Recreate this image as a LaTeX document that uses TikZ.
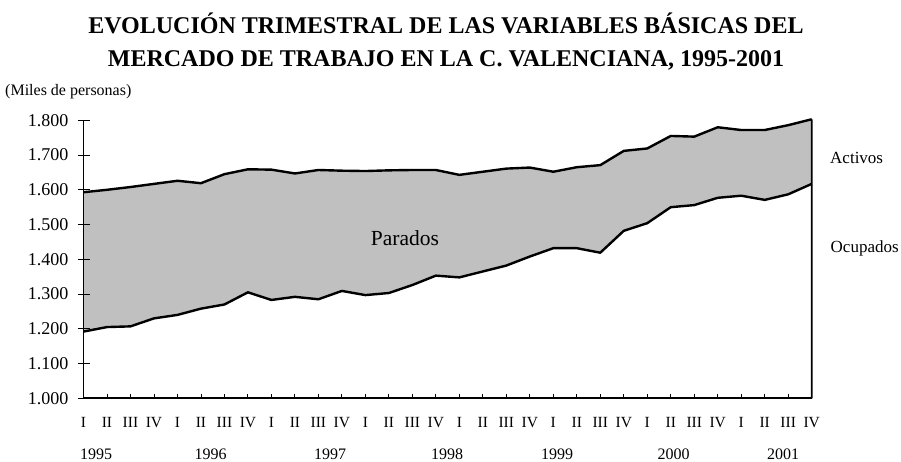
\documentclass[tikz,border=0pt]{standalone}
\usepackage{fontspec}
\setmainfont{Liberation Serif}
\definecolor{areagray}{HTML}{C0C0C0}
\begin{document}
\begin{tikzpicture}[x=1pt,y=-1pt,
  dataline/.style={line width=2.4pt,line join=round},
  axisline/.style={line width=1.8pt},
  tickline/.style={line width=0.9pt},
  ticklab/.style={anchor=east,inner sep=0pt,font=\fontsize{18}{18}\selectfont},
  qlab/.style={anchor=base,inner sep=0pt,font=\fontsize{15.5}{16}\selectfont},
  yearlab/.style={anchor=base,inner sep=0pt,font=\fontsize{16}{16}\selectfont},
  serlab/.style={anchor=base west,inner sep=0pt,font=\fontsize{17}{17}\selectfont},
  titlelab/.style={anchor=base,inner sep=0pt,font=\fontsize{24}{24}\selectfont\bfseries}]
\useasboundingbox (0,0) rectangle (901,461);
% data
\foreach \v [count=\i from 0] in {1593,1600,1608,1617,1626,1619,1645,1659,1658,1647,1657,1655,1654,1656,1657,1657,1643,1652,1661,1664,1652,1665,1671,1712,1719,1755,1753,1780,1772,1772,1786,1803}
  {\coordinate (a\i) at ({83.5+23.49*\i},{398.3-0.3475*(\v-1000)});}
\foreach \v [count=\i from 0] in {1192,1205,1207,1230,1240,1258,1270,1305,1283,1292,1285,1309,1297,1303,1326,1353,1348,1365,1382,1408,1432,1432,1419,1482,1504,1550,1556,1577,1583,1571,1587,1617}
  {\coordinate (o\i) at ({83.5+23.49*\i},{398.3-0.3475*(\v-1000)});}
\coordinate (ytop) at (83.5,120.3);
\coordinate (origin) at (83.5,398.3);
\coordinate (xend) at (811.7,398.3);
% shaded band
\fill[areagray] (a0) \foreach \i in {1,...,31}{-- (a\i)} -- (o31) \foreach \i in {30,29,...,0}{-- (o\i)} -- cycle;
% lines
\draw[dataline] (a0) \foreach \i in {1,...,31}{-- (a\i)};
\draw[dataline] (o0) \foreach \i in {1,...,31}{-- (o\i)};
\draw[axisline] (a31) -- (xend);
\draw[axisline] (ytop) -- (origin) -- (xend);
% y ticks
\foreach \k/\t in {0/1.000,1/1.100,2/1.200,3/1.300,4/1.400,5/1.500,6/1.600,7/1.700,8/1.800}{
  \draw[tickline] (77.5,{398.3-34.75*\k}) -- (89.5,{398.3-34.75*\k});
  \node[ticklab] (yl\k) at (68.5,{398.3-34.75*\k}) {\t};
}
% x ticks
\foreach \i in {1,...,30}{
  \draw[tickline] ({83.5+23.49*\i},398.3) -- ({83.5+23.49*\i},393.8);
}
% quarter labels
\foreach \g in {0,...,7}{
  \foreach \q/\r in {0/I,1/II,2/III,3/IV}{
    \node[qlab] (q-\g-\q) at ({83.5+23.49*(4*\g+\q)},427.3) {\r};
  }
}
% years
\foreach \x/\yr in {96/1995,210.5/1996,330/1997,447/1998,557/1999,673.5/2000,783/2001}{
  \node[yearlab] (yr\yr) at (\x,459) {\yr};
}
% texts
\node[titlelab] (title1) at (446,33) {EVOLUCIÓN TRIMESTRAL DE LAS VARIABLES BÁSICAS DEL};
\node[titlelab] (title2) at (446,66) {MERCADO DE TRABAJO EN LA C. VALENCIANA, 1995-2001};
\node[anchor=base west,inner sep=0pt,font=\fontsize{16}{16}\selectfont] (unit) at (5,95) {(Miles de personas)};
\node[anchor=base,inner sep=0pt,font=\fontsize{21.5}{22}\selectfont] (parados) at (405,245) {Parados};
\node[serlab] (activos) at (830,163.3) {Activos};
\node[serlab] (ocupados) at (830.5,252.7) {Ocupados};
\end{tikzpicture}
\end{document}
